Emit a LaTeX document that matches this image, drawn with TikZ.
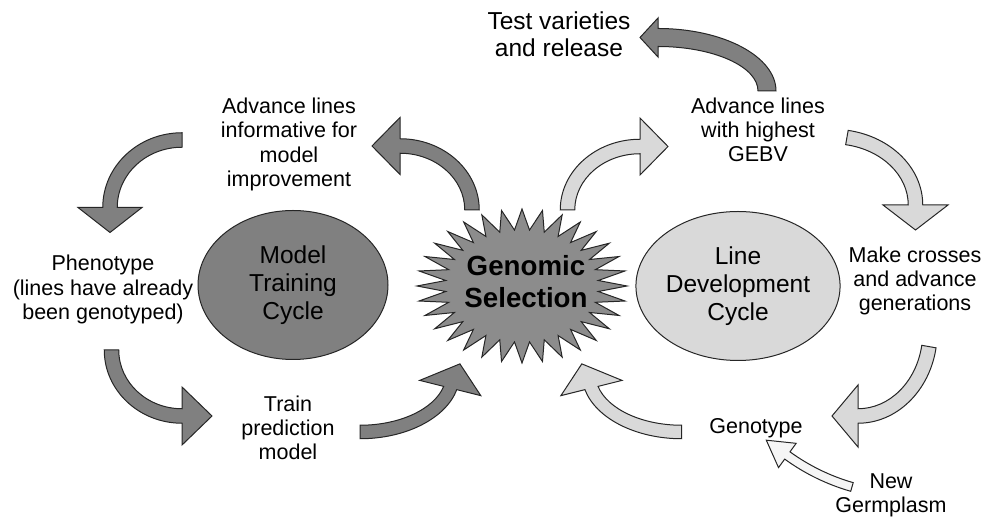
\documentclass[tikz,border=0pt]{standalone}
\usepackage{fontspec}
\setmainfont{Liberation Sans}
\usepackage{tikz}
\usetikzlibrary{shapes.geometric}

\definecolor{cycdark}{gray}{0.50}
\definecolor{cyclight}{gray}{0.85}
\definecolor{cycpale}{gray}{0.96}
\definecolor{burstgray}{gray}{0.55}

% fat curved arrow along an elliptic arc:
% #1 style, #2 centre, #3/#4 radii, #5/#6 start/end angle,
% #7 shaft width, #8 head width, #9 head length
\newcommand\cyclearrow[9]{%
    \pgfmathsetmacro\arsgn{(#6>#5) ? 1 : -1}%
    \pgfmathsetmacro\arxo{#3+#7/2}%
    \pgfmathsetmacro\aryo{#4+#7/2}%
    \pgfmathsetmacro\arxi{#3-#7/2}%
    \pgfmathsetmacro\aryi{#4-#7/2}%
    \pgfmathsetmacro\arxh{#3+#8/2}%
    \pgfmathsetmacro\aryh{#4+#8/2}%
    \pgfmathsetmacro\arxl{#3-#8/2}%
    \pgfmathsetmacro\aryl{#4-#8/2}%
    \pgfmathsetmacro\artx{-1*(\arsgn)*#3*sin(#6)}%
    \pgfmathsetmacro\arty{(\arsgn)*#4*cos(#6)}%
    \pgfmathsetmacro\arlen{veclen(\artx,\arty)}%
    \pgfmathsetmacro\arpx{#3*cos(#6)+#9*\artx/\arlen}%
    \pgfmathsetmacro\arpy{#4*sin(#6)+#9*\arty/\arlen}%
    \begin{scope}[shift={(#2)}]
        \draw[#1] ({\arxo*cos(#5)},{\aryo*sin(#5)})
            arc[start angle=#5, end angle=#6, x radius=\arxo, y radius=\aryo]
            -- ({\arxh*cos(#6)},{\aryh*sin(#6)})
            -- (\arpx,\arpy)
            -- ({\arxl*cos(#6)},{\aryl*sin(#6)})
            -- ({\arxi*cos(#6)},{\aryi*sin(#6)})
            arc[start angle=#6, end angle=#5, x radius=\arxi, y radius=\aryi]
            -- cycle;
    \end{scope}%
}

\begin{document}
\begin{tikzpicture}[x=1pt,y=1pt]
    	\tikzstyle{cyctext} = 
    	[align = center,
    	inner sep = 0pt,
    	font = \fontsize{21.5}{24.3}\selectfont
    	]
    	\tikzstyle{cycleoval} = 
    	[ellipse,
    	draw = black!85,
    	line width = 1pt,
    	inner sep = 0pt,
    	minimum width = 190pt,
    	minimum height = 149pt,
    	align = center,
    	font = \fontsize{24.5}{28}\selectfont
    	]
    	\tikzstyle{darkarrow} = 
    	[fill = cycdark,
    	draw = black!85,
    	line width = 1pt,
    	line join = miter
    	]
    	\tikzstyle{lightarrow} = 
    	[darkarrow,
    	fill = cyclight
    	]
    	\tikzstyle{palearrow} = 
    	[darkarrow,
    	fill = cycpale
    	]
    	\tikzstyle{burst} = 
    	[fill = burstgray,
    	draw = black!85,
    	line width = 1pt
    	]

        \useasboundingbox (0,0) rectangle (985,518);

        % the two cycles and the centre
        \node[cycleoval, fill = cycdark] (training) at (293,233)
        	{Model\\Training\\Cycle};
        \node[cycleoval, fill = cyclight] (linedev) at (738,232)
        	{Line\\Development\\Cycle};

        \coordinate (gs) at (522,232);
        \begin{scope}[shift={(gs)}]
        	\draw[burst] (0,77)
        		\foreach \k in {1,...,63}
        		{ -- ({ifthenelse(iseven(\k),105,76.6)*cos(90+\k*5.625)},
        		      {ifthenelse(iseven(\k),77,56.2)*sin(90+\k*5.625)}) }
        		-- cycle;
        \end{scope}
        \node[align = center, inner sep = 0pt,
        	font = \fontsize{27.7}{31.5}\selectfont\bfseries] (gstext) at (526,236.3)
        	{Genomic\\Selection};

        % labels
        \node[cyctext, font = \fontsize{24.5}{27}\selectfont] (release) at (559,483.5)
        	{Test varieties\\and release};
        \node[cyctext] (informative) at (289,373.5)
        	{Advance lines\\informative for\\model\\improvement};
        \node[cyctext] (phenotype) at (103,228.3)
        	{Phenotype\\(lines have already\\been genotyped)};
        \node[cyctext] (train) at (288,90)
        	{Train\\prediction\\model};
        \node[cyctext] (highest) at (758,388)
        	{Advance lines\\with highest\\GEBV};
        \node[cyctext] (crosses) at (915,237)
        	{Make crosses\\and advance\\generations};
        \node[cyctext, anchor = base] (genotype) at (756,84.7)
        	{Genotype};
        \node[cyctext] (germplasm) at (891,23)
        	{New\\Germplasm};

        % arc centres of the fat arrows
        \coordinate (c-inf-phe) at (182,310.5);
        \coordinate (c-phe-tra) at (182,168);
        \coordinate (c-tra-gs)  at (360,144);
        \coordinate (c-gs-inf)  at (400,308);
        \coordinate (c-gs-hig)  at (640,308);
        \coordinate (c-hig-rel) at (658,427);
        \coordinate (c-hig-cro) at (832.5,313);
        \coordinate (c-cro-gen) at (858,186);
        \coordinate (c-gen-gs)  at (681.7,144);
        \coordinate (c-new-gen) at (909,230);

        \cyclearrow{darkarrow}{c-inf-phe}{72}{67.5}{90}{180}{14.5}{64}{25}
        \cyclearrow{darkarrow}{c-phe-tra}{70.5}{66}{180}{270}{14.5}{58}{30}
        \cyclearrow{darkarrow}{c-tra-gs}{93}{58}{270}{346}{13.5}{63}{26}
        \cyclearrow{darkarrow}{c-gs-inf}{72}{64}{0}{90}{14.5}{57}{28}
        \cyclearrow{lightarrow}{c-gs-hig}{72.5}{63.5}{180}{90}{14.5}{57}{28}
        \cyclearrow{darkarrow}{c-hig-rel}{109}{53.5}{0}{90}{18}{39}{18}
        \cyclearrow{lightarrow}{c-hig-cro}{83}{68.5}{80}{0}{14.5}{65}{25}
        \cyclearrow{lightarrow}{c-cro-gen}{72}{84}{-10}{-90}{14.5}{62}{26}
        \cyclearrow{lightarrow}{c-gen-gs}{93}{58}{270}{194}{13.5}{63}{26}
        \cyclearrow{palearrow}{c-new-gen}{207}{207}{254}{234}{9}{30}{26}
    \end{tikzpicture}
\end{document}
